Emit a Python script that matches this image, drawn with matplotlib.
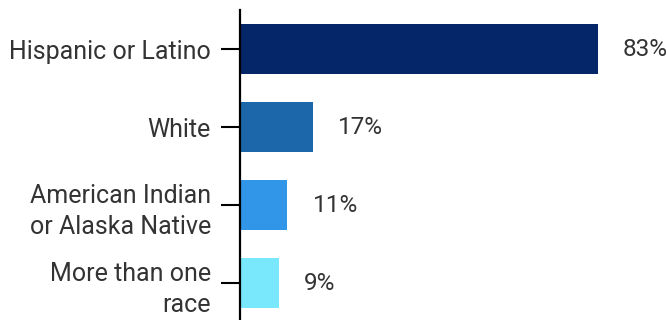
import matplotlib
matplotlib.use("Agg")
import matplotlib.pyplot as plt

categories = ["Hispanic or Latino", "White", "American Indian\nor Alaska Native", "More than one\nrace"]
values = [83, 17, 11, 9]
value_labels = ["83%", "17%", "11%", "9%"]
colors = ["#052669", "#1B67AA", "#3195E8", "#7AE8FC"]

plt.rcParams['font.family'] = ['Roboto', 'DejaVu Sans']

fig = plt.figure(figsize=(6.67, 3.2), dpi=100)
ax = fig.add_axes([240/667, 0, 1 - 240/667, 1 - 10/320])

pos = list(range(len(categories)))
ax.barh(pos, values, height=0.64, color=colors)
ax.set_ylim(3.474, -0.5)
ax.set_xlim(0, 99)

for y, v, lab in zip(pos, values, value_labels):
    ax.annotate(lab, xy=(v, y), xytext=(18, 0), textcoords="offset points",
                va="center", ha="left", fontsize=17.5, color="#333333")

ax.set_yticks(pos)
ax.set_yticklabels(categories, fontsize=18, color="#333333", linespacing=1.38)
ax.tick_params(axis="y", length=14, width=1.5, pad=7, color="black")
ax.set_xticks([])
for s in ["top", "right", "bottom"]:
    ax.spines[s].set_visible(False)
ax.spines["left"].set_linewidth(1.6)
ax.spines["left"].set_color("black")

fig.savefig("out.png", dpi=100)
